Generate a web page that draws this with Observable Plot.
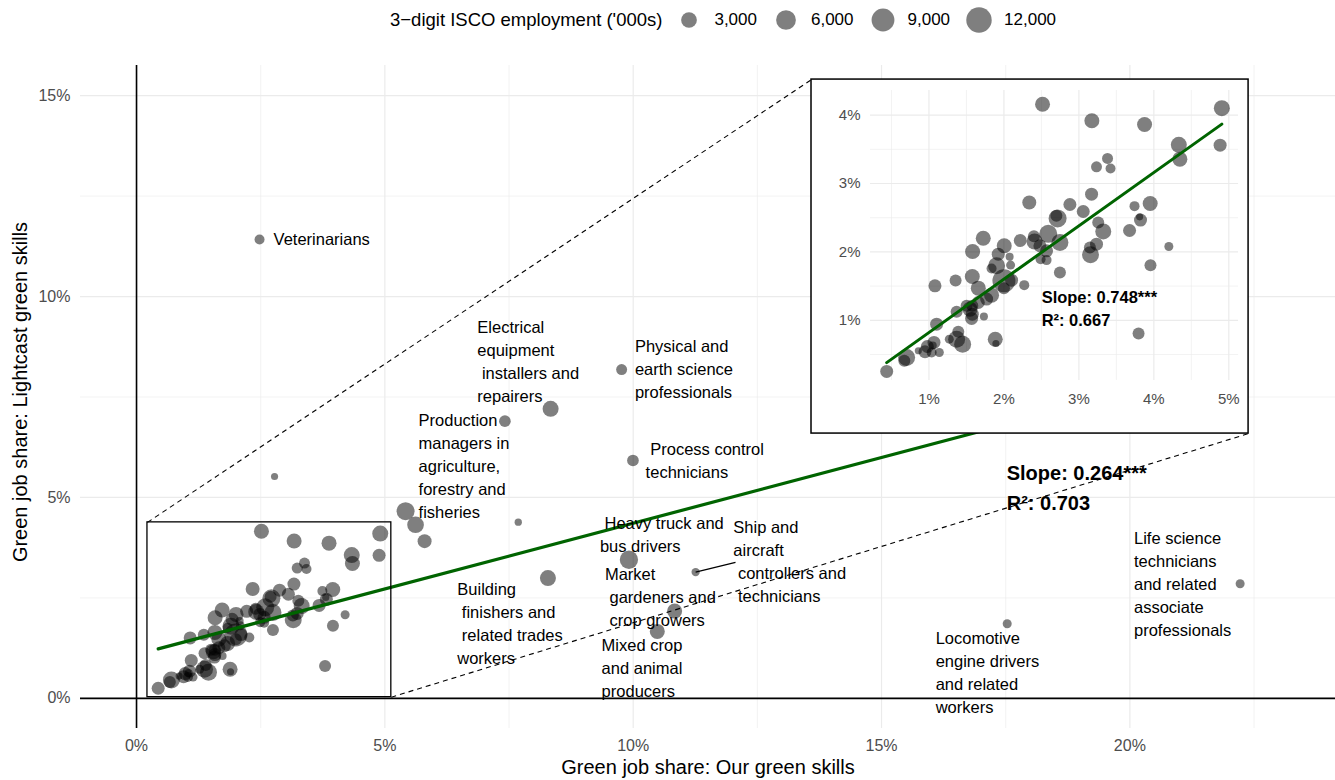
<!DOCTYPE html>
<html>
<head>
<meta charset="utf-8">
<script src="https://cdn.jsdelivr.net/npm/d3@7"></script>
<script src="https://cdn.jsdelivr.net/npm/@observablehq/plot@0.6"></script>
<style>
  body { margin: 0; background: #fff; font-family: "Liberation Sans", Arial, sans-serif; }
  #chart { position: relative; width: 1335px; height: 780px; }
  #legend { height: 40px; display: flex; align-items: center; padding-left: 390px; box-sizing: border-box; color: #000; }
  #legend .title { font-size: 18.5px; margin-right: 12px; }
  #legend .lab { font-size: 17px; margin-right: 14px; }
  #legend svg { margin-right: 10px; }
  svg text { white-space: pre; }
</style>
</head>
<body>
<div id="chart"><div id="legend"></div></div>
<script>
// ---- Occupations inside the low-share cluster (green job shares in %, employment in '000s)
const clusterOurs = [2.515, 4.907, 3.173, 3.876, 4.333, 4.347, 4.884, 3.382, 3.235, 3.422,
  3.169, 2.338, 2.88, 3.951, 3.742, 3.058, 2.70, 2.716, 3.822, 3.81,
  3.258, 3.325, 3.676, 1.724, 2.218, 2.40, 2.409, 2.591, 2.747, 2.48,
  2.569, 3.235, 3.147, 3.155, 4.20, 1.582, 2.004, 1.924, 2.076, 2.489,
  2.569, 2.089, 1.902, 1.835, 3.955, 2.747, 1.355, 1.578, 1.08, 1.658,
  2.0, 2.102, 2.0, 2.271, 1.835, 1.769, 1.658, 1.578, 1.547, 1.502,
  1.578, 1.569, 1.733, 1.369, 1.102, 1.391, 1.369, 1.449, 1.271, 1.884,
  1.893, 1.067, 0.978, 0.947, 1.036, 1.138, 1.05, 0.671, 0.702, 0.858,
  0.436, 3.796];
const clusterLightcast = [4.16, 4.102, 3.917, 3.863, 3.566, 3.356, 3.561, 3.366, 3.244, 3.22,
  2.844, 2.723, 2.693, 2.708, 2.669, 2.591, 2.53, 2.49, 2.465, 2.513,
  2.43, 2.299, 2.313, 2.2, 2.167, 2.23, 2.152, 2.265, 2.138, 2.09,
  2.016, 2.113, 2.065, 1.958, 2.08, 2.006, 2.089, 1.967, 1.928, 1.894,
  1.88, 1.807, 1.797, 1.758, 1.806, 1.70, 1.582, 1.641, 1.504, 1.47,
  1.578, 1.587, 1.47, 1.514, 1.368, 1.31, 1.26, 1.212, 1.163, 1.212,
  1.09, 1.027, 1.056, 1.124, 0.944, 0.832, 0.724, 0.651, 0.724, 0.724,
  0.661, 0.676, 0.617, 0.54, 0.53, 0.53, 0.63, 0.408, 0.457, 0.554,
  0.252, 0.808];
const clusterEmployment = [2570, 3180, 2570, 2570, 3180, 2570, 1560, 790, 790, 510,
  1560, 2030, 1560, 2570, 510, 1560, 1140, 4570, 1560, 40,
  1140, 3180, 1560, 2570, 1560, 1140, 3180, 4570, 3840, 1560,
  1560, 1560, 1140, 3840, 290, 2570, 2570, 1560, 130, 510,
  510, 290, 3840, 510, 1140, 1140, 1140, 2570, 1560, 2570,
  9180, 1560, 1140, 510, 2570, 1560, 1560, 1140, 2570, 1140,
  1560, 1560, 130, 1140, 1560, 1140, 3840, 3840, 290, 2570,
  40, 1560, 1560, 1560, 510, 290, 130, 1140, 3840, 40,
  1560, 1140];

// ---- Occupations outside the cluster
const outlierOccupation = ["Veterinarians", "", "Production managers in agriculture, forestry and fisheries",
  "Electrical equipment installers and repairers", "Physical and earth science professionals",
  "Process control technicians", "", "", "", "", "Heavy truck and bus drivers",
  "Ship and aircraft controllers and technicians", "Market gardeners and crop growers",
  "Mixed crop and animal producers", "Building finishers and related trades workers",
  "Locomotive engine drivers and related workers",
  "Life science technicians and related associate professionals"];
const outlierOurs = [2.477, 2.779, 7.417, 8.337, 9.767, 9.995, 7.686, 5.417, 5.618, 5.8, 9.914, 11.257, 10.834, 10.485, 8.283, 17.53, 22.22];
const outlierLightcast = [11.418, 5.522, 6.898, 7.206, 8.184, 5.92, 4.386, 4.659, 4.32, 3.913, 3.45, 3.142, 2.172, 1.667, 2.993, 1.858, 2.853];
const outlierEmployment = [510, 40, 1030, 3180, 790, 1030, 55, 4570, 3630, 2030, 4800, 170, 2570, 2570, 3180, 290, 290];

// ---- Occupation labels (wrapped text and anchor in data units)
const labelText = [
  "Veterinarians",
  "Electrical\nequipment\n installers and\nrepairers",
  "Production\nmanagers in\nagriculture,\nforestry and\nfisheries",
  "Physical and\nearth science\nprofessionals",
  " Process control\ntechnicians",
  " Heavy truck and\nbus drivers",
  "Ship and\naircraft\n controllers and\n technicians",
  "Market\n gardeners and\n crop growers",
  "Mixed crop\nand animal\nproducers",
  "Building\n finishers and\n related trades\nworkers",
  "Locomotive\nengine drivers\nand related\nworkers",
  "Life science\ntechnicians\nand related\nassociate\nprofessionals"];
const labelX = [2.759, 6.861, 5.679, 10.034, 10.25, 9.33, 12.016, 9.43, 9.364, 6.458, 16.089, 20.083];
const labelY = [11.418, 8.376, 5.764, 8.174, 5.9, 4.055, 3.389, 2.502, 0.731, 1.846, 0.629, 2.831];
// leader from the ship/aircraft point to its label
const leaderFrom = [11.257, 3.142];
const leaderTo = [12.06, 3.383];

// ---- Fitted lines and their statistics
const fullFit = { slope: 0.327, intercept: 1.089 };
const fullStats = "Slope: 0.264***\nR²: 0.703";
const fullStatsAt = [17.52, 5.28];
const clusterFit = { slope: 0.78, intercept: 0.041 };
const clusterStats = "Slope: 0.748***\nR²: 0.667";
const clusterStatsAt = [2.503, 1.19];

// ---- Zoom window and inset placement (data units of the full chart)
const zoomX = [0.22, 5.13];
const zoomY = [0.03, 4.38];
const insetX = [13.59, 22.39];
const insetY = [6.59, 15.40];

// ---- Axis ticks
const majorX = [0, 5, 10, 15, 20];
const minorX = [2.5, 7.5, 12.5, 17.5, 22.5];
const majorY = [0, 5, 10, 15];
const minorY = [2.5, 7.5, 12.5];
const insetMajorX = [1, 2, 3, 4, 5];
const insetMinorX = [0.5, 1.5, 2.5, 3.5, 4.5];
const insetMajorY = [1, 2, 3, 4];
const insetMinorY = [0.5, 1.5, 2.5, 3.5];
const legendValues = [3000, 6000, 9000, 12000];

const xTitle = "Green job share: Our green skills";
const yTitle = "Green job share: Lightcast green skills";
const legendTitle = "3\u2212digit ISCO employment ('000s)";

// ---- Build tables
const cluster = clusterOurs.map((x, i) => ({ x, y: clusterLightcast[i], emp: clusterEmployment[i] }));
const outliers = outlierOurs.map((x, i) => ({ x, y: outlierLightcast[i], emp: outlierEmployment[i], name: outlierOccupation[i] }));
const points = cluster.concat(outliers);
const labels = labelText.map((t, i) => ({ text: t, x: labelX[i], y: labelY[i] }));

function fitRows(data, fit) {
  const [x0, x1] = d3.extent(data, d => d.x);
  return [x0, x1].map(x => ({ x, y: fit.intercept + fit.slope * x }));
}

const font = "'Liberation Sans', Arial, sans-serif";
const pct = d => `${d}%`;
const rScale = { type: "sqrt", domain: [0, 14000], range: [3, 13.5] };
const grid = "#ebebeb";

const main = Plot.plot({
  width: 1335,
  height: 740,
  marginTop: 25,
  marginBottom: 52,
  marginLeft: 80,
  marginRight: 0,
  style: { fontFamily: font, background: "transparent" },
  x: { domain: [-1.128, 24.14], label: null },
  y: { domain: [-0.75, 15.75], label: null },
  r: rScale,
  marks: [
    Plot.ruleX(minorX, { stroke: grid, strokeWidth: 0.6 }),
    Plot.ruleY(minorY, { stroke: grid, strokeWidth: 0.6 }),
    Plot.ruleX(majorX, { stroke: grid, strokeWidth: 1.2 }),
    Plot.ruleY(majorY, { stroke: grid, strokeWidth: 1.2 }),
    Plot.ruleX([0], { stroke: "black", strokeWidth: 1.6 }),
    Plot.ruleY([0], { stroke: "black", strokeWidth: 1.6 }),
    Plot.axisX({ ticks: majorX, tickSize: 0, tickPadding: 11, fontSize: 16, fill: "#4d4d4d", tickFormat: pct, label: null }),
    Plot.axisY({ ticks: majorY, tickSize: 0, tickPadding: 10, fontSize: 16, fill: "#4d4d4d", tickFormat: pct, label: null }),
    Plot.dot(points, { x: "x", y: "y", r: "emp", fill: "black", fillOpacity: 0.5 }),
    Plot.line(fitRows(points, fullFit), { x: "x", y: "y", stroke: "#006400", strokeWidth: 3.2 }),
    Plot.text(labels, { x: "x", y: "y", dy: -2, text: "text", textAnchor: "start", lineAnchor: "middle", lineHeight: 1.394, fontSize: 16.5, fill: "black" }),
    Plot.link([{ x1: leaderFrom[0], y1: leaderFrom[1], x2: leaderTo[0], y2: leaderTo[1] }], { x1: "x1", y1: "y1", x2: "x2", y2: "y2", stroke: "black", strokeWidth: 1.3 }),
    Plot.text([fullStats], { x: fullStatsAt[0], y: fullStatsAt[1], dy: -1, text: d => d, textAnchor: "start", lineAnchor: "middle", lineHeight: 1.5, fontSize: 20, fontWeight: "bold", fill: "black" }),
    Plot.rect([{ x1: zoomX[0], x2: zoomX[1], y1: zoomY[0], y2: zoomY[1] }], { x1: "x1", x2: "x2", y1: "y1", y2: "y2", fill: "none", stroke: "black", strokeWidth: 1.3 }),
    Plot.link([
      { x1: zoomX[0], y1: zoomY[1], x2: insetX[0], y2: insetY[1] },
      { x1: zoomX[1], y1: zoomY[0], x2: insetX[1], y2: insetY[0] }
    ], { x1: "x1", y1: "y1", x2: "x2", y2: "y2", stroke: "black", strokeWidth: 1.1, strokeDasharray: "5,4" }),
    Plot.rect([{ x1: insetX[0], x2: insetX[1], y1: insetY[0], y2: insetY[1] }], { x1: "x1", x2: "x2", y1: "y1", y2: "y2", fill: "white", stroke: "black", strokeWidth: 1.5 }),
    Plot.text([xTitle], { frameAnchor: "bottom", dy: 39, lineAnchor: "middle", fontSize: 20, fill: "black", text: d => d }),
    Plot.text([yTitle], { frameAnchor: "left", dx: -60, dy: -5, rotate: -90, textAnchor: "middle", lineAnchor: "middle", fontSize: 20, fill: "black", text: d => d })
  ]
});

const chart = document.getElementById("chart");
chart.appendChild(main);

// ---- Inset: the cluster drawn on its own axes, placed over the inset frame
const sx = main.scale("x"), sy = main.scale("y");
const insetLeft = sx.apply(insetX[0]), insetRight = sx.apply(insetX[1]);
const insetTop = sy.apply(insetY[1]), insetBottom = sy.apply(insetY[0]);

const inset = Plot.plot({
  width: insetRight - insetLeft,
  height: insetBottom - insetTop,
  marginTop: 11,
  marginBottom: 53,
  marginLeft: 59,
  marginRight: 10,
  style: { fontFamily: font, background: "transparent" },
  x: { domain: zoomX, label: null },
  y: { domain: [0.12, 4.36], label: null },
  r: rScale,
  marks: [
    Plot.ruleX(insetMinorX, { stroke: grid, strokeWidth: 0.6 }),
    Plot.ruleY(insetMinorY, { stroke: grid, strokeWidth: 0.6 }),
    Plot.ruleX(insetMajorX, { stroke: grid, strokeWidth: 1.2 }),
    Plot.ruleY(insetMajorY, { stroke: grid, strokeWidth: 1.2 }),
    Plot.axisX({ ticks: insetMajorX, tickSize: 0, tickPadding: 12.5, fontSize: 15, fill: "#4d4d4d", tickFormat: pct, label: null }),
    Plot.axisY({ ticks: insetMajorY, tickSize: 0, tickPadding: 10, fontSize: 15, fill: "#4d4d4d", tickFormat: pct, label: null }),
    Plot.dot(cluster, { x: "x", y: "y", r: "emp", fill: "black", fillOpacity: 0.5 }),
    Plot.line(fitRows(cluster, clusterFit), { x: "x", y: "y", stroke: "#006400", strokeWidth: 3 }),
    Plot.text([clusterStats], { x: clusterStatsAt[0], y: clusterStatsAt[1], text: d => d, textAnchor: "start", lineAnchor: "middle", lineHeight: 1.4, fontSize: 16.5, fontWeight: "bold", fill: "black" })
  ]
});
inset.style.position = "absolute";
inset.style.left = `${insetLeft}px`;
inset.style.top = `${40 + insetTop}px`;
chart.appendChild(inset);

// ---- Size legend above the chart, sized through the plot's r scale
const rSize = main.scale("r");
const legend = d3.select("#legend");
legend.append("span").attr("class", "title").text(legendTitle);
for (const v of legendValues) {
  const rad = rSize.apply(v);
  const key = legend.append("svg").attr("width", 30).attr("height", 30);
  key.append("circle").attr("cx", 15).attr("cy", 15).attr("r", rad).attr("fill", "black").attr("fill-opacity", 0.5);
  legend.append("span").attr("class", "lab").text(d3.format(",")(v));
}
</script>
</body>
</html>
